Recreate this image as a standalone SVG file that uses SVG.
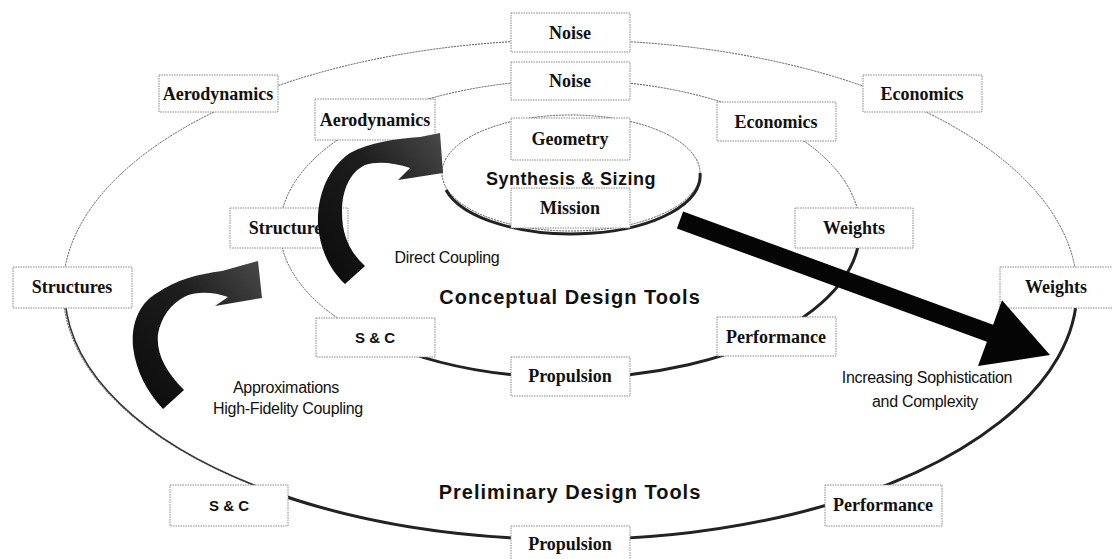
<svg xmlns="http://www.w3.org/2000/svg" width="1112" height="559" viewBox="0 0 1112 559">
  <defs>
    <style>
      .ring-thin { fill: none; stroke: #555; stroke-width: 1; stroke-dasharray: 2 1; }
      .ring-mid { fill: none; stroke: #333; stroke-width: 1.6; }
      .ring-thick { fill: none; stroke: #222; stroke-width: 3; }
      .box { fill: #fff; stroke: #888; stroke-width: 1; stroke-dasharray: 1.5 1; }
      .serif { font-family: "Liberation Serif", "Times New Roman", serif; font-size: 18px; font-weight: bold; fill: #111; text-anchor: middle; }
      .sansbox { font-family: "Liberation Sans", Arial, sans-serif; font-size: 15px; font-weight: bold; fill: #111; text-anchor: middle; }
      .title { font-family: "Liberation Sans", Arial, sans-serif; font-size: 20px; font-weight: bold; fill: #111; text-anchor: middle; letter-spacing: 1px; }
      .note { font-family: "Liberation Sans", Arial, sans-serif; font-size: 16px; fill: #111; text-anchor: middle; letter-spacing: -0.3px; }
      .big-arrow { fill: #050505; }
      .curl { fill: url(#curlFill); }
    </style>
    <linearGradient id="curlFill" x1="0" y1="1" x2="1" y2="0">
      <stop offset="0" stop-color="#0a0a0a"/>
      <stop offset="0.6" stop-color="#1e1e1e"/>
      <stop offset="1" stop-color="#4a4a4a"/>
    </linearGradient>
  </defs>

  <rect width="1112" height="559" fill="#fff"/>

  <!-- connectors: the two tool rings, the synthesis loop and the arrows -->
  <g id="connectors">
    <!-- preliminary (outer) ring -->
    <ellipse class="ring-thin" cx="570" cy="290" rx="507" ry="250"/>
    <path class="ring-mid" d="M 65 300 A 507 250 0 0 0 259 487"/>
    <path class="ring-thick" d="M 259 487 A 507 250 0 0 0 1077 290"/>
    <!-- conceptual (inner) ring -->
    <ellipse class="ring-thin" cx="570" cy="229" rx="290" ry="149"/>
    <path class="ring-thick" d="M 377 340 A 290 149 0 0 0 860 229"/>
    <!-- synthesis & sizing loop -->
    <ellipse class="ring-thin" cx="571" cy="173" rx="129" ry="58"/>
    <path class="ring-thick" d="M 446 190 A 129 58 0 0 0 700 173"/>
  </g>

  <!-- outer ring nodes -->
  <g id="noise-outer"><rect class="box" x="511" y="13" width="119" height="39"/><text class="serif" x="570" y="39">Noise</text></g>
  <g id="aero-outer"><rect class="box" x="159" y="75" width="119" height="37"/><text class="serif" x="218" y="100">Aerodynamics</text></g>
  <g id="econ-outer"><rect class="box" x="863" y="75" width="119" height="37"/><text class="serif" x="922" y="100">Economics</text></g>
  <g id="struct-outer"><rect class="box" x="13" y="267" width="119" height="41"/><text class="serif" x="72" y="293">Structures</text></g>
  <g id="weights-outer"><rect class="box" x="1000" y="267" width="118" height="41"/><text class="serif" x="1056" y="293">Weights</text></g>
  <g id="snc-outer"><rect class="box" x="170" y="485" width="118" height="41"/><text class="sansbox" x="229" y="511">S &amp; C</text></g>
  <g id="perf-outer"><rect class="box" x="825" y="485" width="117" height="41"/><text class="serif" x="883" y="511">Performance</text></g>
  <g id="prop-outer"><rect class="box" x="511" y="526" width="119" height="40"/><text class="serif" x="570" y="550">Propulsion</text></g>

  <!-- inner ring nodes -->
  <g id="noise-inner"><rect class="box" x="511" y="62" width="119" height="38"/><text class="serif" x="570" y="87">Noise</text></g>
  <g id="aero-inner"><rect class="box" x="315" y="99" width="120" height="41"/><text class="serif" x="375" y="126">Aerodynamics</text></g>
  <g id="econ-inner"><rect class="box" x="717" y="102" width="119" height="39"/><text class="serif" x="776" y="128">Economics</text></g>
  <g id="struct-inner"><rect class="box" x="230" y="208" width="118" height="40"/><text class="serif" x="289" y="234">Structures</text></g>
  <g id="weights-inner"><rect class="box" x="795" y="208" width="118" height="40"/><text class="serif" x="854" y="234">Weights</text></g>
  <g id="snc-inner"><rect class="box" x="316" y="318" width="119" height="39"/><text class="sansbox" x="375" y="343">S &amp; C</text></g>
  <g id="perf-inner"><rect class="box" x="717" y="317" width="119" height="39"/><text class="serif" x="776" y="343">Performance</text></g>
  <g id="prop-inner"><rect class="box" x="511" y="357" width="119" height="39"/><text class="serif" x="570" y="382">Propulsion</text></g>

  <!-- synthesis & sizing core -->
  <g id="geometry"><rect class="box" x="511" y="118" width="119" height="42"/><text class="serif" x="570" y="145">Geometry</text></g>
  <g id="synthesis"><text class="title" x="571" y="185" style="font-size:18px;letter-spacing:0.5px">Synthesis &amp; Sizing</text></g>
  <g id="mission"><rect class="box" x="511" y="188" width="119" height="40"/><text class="serif" x="570" y="214">Mission</text></g>

  <!-- arrows -->
  <g id="arrows">
    <path id="direct-coupling-arrow" class="curl" d="M 345 284 C 330 270 320 250 318 225 C 317 195 328 168 350 153 C 370 142 395 139 420 137 L 440 133 L 443 173 L 398 180 L 410 168 C 395 163 378 161 365 165 C 350 172 342 190 342 212 C 342 236 350 252 365 266 Z"/>
    <path id="approx-arrow" class="curl" d="M 163 409 C 148 393 136 372 133 347 C 131 322 140 303 157 293 C 176 280 198 274 222 271 L 258 261 L 262 298 L 215 306 L 228 297 C 214 292 198 291 186 296 C 170 304 161 318 158 334 C 156 354 166 372 184 390 Z"/>
    <polygon id="sophistication-arrow" class="big-arrow" points="683.1,211.5 993.1,324.7 1002,300.3 1050,355 978,366.1 986.9,341.7 676.9,228.5"/>
  </g>

  <!-- free labels -->
  <g id="labels">
    <text class="note" x="447" y="263">Direct Coupling</text>
    <text class="title" x="570" y="304">Conceptual Design Tools</text>
    <text class="title" x="570" y="499">Preliminary Design Tools</text>
    <text class="note" x="286" y="393">Approximations</text>
    <text class="note" x="288" y="414">High-Fidelity Coupling</text>
    <text class="note" x="927" y="383">Increasing Sophistication</text>
    <text class="note" x="925" y="407">and Complexity</text>
  </g>
</svg>
